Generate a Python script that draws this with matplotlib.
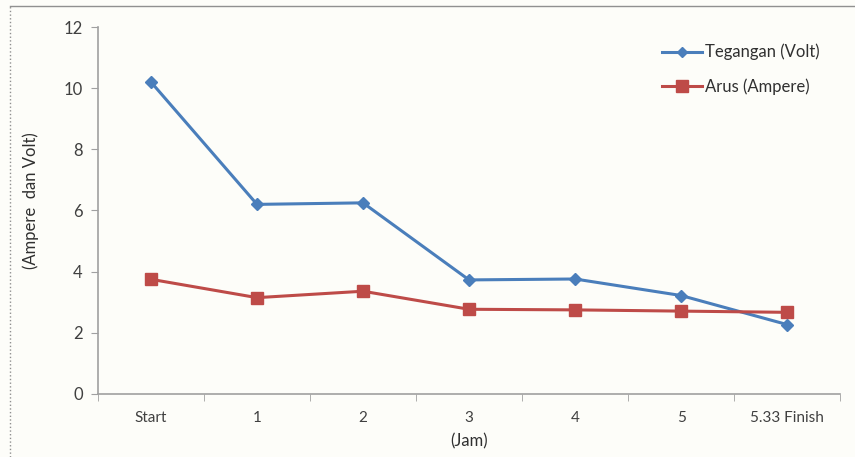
import numpy as np
import matplotlib
matplotlib.use("Agg")
import matplotlib.pyplot as plt
from matplotlib.lines import Line2D

categories = ["Start", "1", "2", "3", "4", "5", "5.33 Finish"]
tegangan = [10.2, 6.2, 6.25, 3.73, 3.76, 3.22, 2.27]
arus = [3.75, 3.15, 3.36, 2.77, 2.75, 2.71, 2.67]
yticks = [0, 2, 4, 6, 8, 10, 12]

BLUE = "#4A7EBB"
RED = "#BE4B48"
plt.rcParams["font.family"] = ["Lato", "DejaVu Sans"]

fig = plt.figure(figsize=(8.55, 4.57), dpi=100, facecolor="#fdfdf9")
ax = fig.add_axes([0.1146, 0.1379, 0.868, 0.803])
ax.set_facecolor("none")

x = np.arange(len(categories))
ax.plot(x, tegangan, color=BLUE, lw=2.2, marker="D", ms=6, zorder=3)
ax.plot(x, arus, color=RED, lw=2.2, marker="s", ms=9, zorder=3)

ax.set_xlim(-0.5, len(categories) - 0.5)
ax.set_ylim(0, 12)
ax.set_yticks(yticks)
ax.set_xticks(x)
ax.set_xticklabels(categories)
ax.set_xticks(np.arange(-0.5, len(categories)), minor=True)
ax.tick_params(axis="x", which="major", length=0, pad=12, labelsize=11, colors="#404040")
ax.tick_params(axis="x", which="minor", length=5, color="#a0a0a0", direction="out")
ax.tick_params(axis="y", length=5, color="#a0a0a0", direction="out", pad=6,
               labelsize=12, colors="#404040")
for s in ["top", "right"]:
    ax.spines[s].set_visible(False)
for s in ["left", "bottom"]:
    ax.spines[s].set_color("#a0a0a0")
    ax.spines[s].set_linewidth(1.2)

ax.set_xlabel("(Jam)", fontsize=12, color="#303030", labelpad=6)
fig.text(0.036, 0.56, "(Ampere  dan Volt)", rotation=90, fontsize=12,
         color="#303030", ha="center", va="center")

handles = [Line2D([], [], color=BLUE, lw=2.2, marker="D", ms=5),
           Line2D([], [], color=RED, lw=2.2, marker="s", ms=8)]
ax.legend(handles, ["Tegangan (Volt)", "Arus (Ampere)"], loc="upper left",
          bbox_to_anchor=(0.74, 0.995), frameon=False, fontsize=12,
          handlelength=2.4, handletextpad=0.15, labelspacing=1.1,
          labelcolor="#303030")

# page borders
fig.add_artist(Line2D([0.012, 1], [0.987, 0.987], color="#909090", lw=1))
fig.add_artist(Line2D([0.012, 0.012], [0, 0.987], color="#909090", lw=1, ls=":"))

fig.savefig("out.png", dpi=100, facecolor=fig.get_facecolor())
